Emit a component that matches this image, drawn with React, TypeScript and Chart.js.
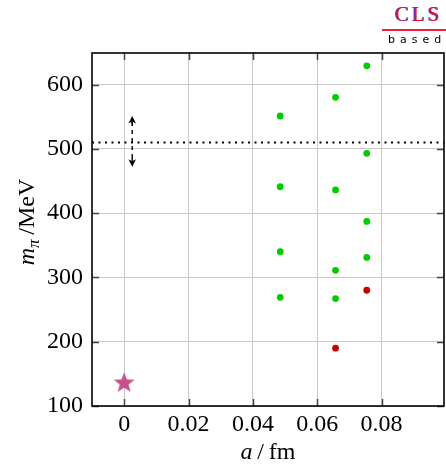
import React, { useEffect, useRef } from "react";
import { Chart, registerables } from "chart.js";

Chart.register(...registerables);

// ---- data ----
const xTicks = [0, 0.02, 0.04, 0.06, 0.08];
const yTicks = [100, 200, 300, 400, 500, 600];
const xRange = [-0.01, 0.0994];
const yRange = [100, 649];

const greenPoints: [number, number][] = [
  [0.0485, 551], [0.0485, 441], [0.0485, 340], [0.0485, 269],
  [0.0657, 580], [0.0657, 436], [0.0657, 311], [0.0657, 267],
  [0.0754, 629], [0.0754, 493], [0.0754, 387], [0.0754, 331],
];
const redPoints: [number, number][] = [
  [0.0657, 190], [0.0754, 280],
];
const physicalPoint: [number, number][] = [[0, 137]];
const refLineY = 510;
const arrowX = 0.0025;
const arrowYRange = [472, 551];

const SERIF = '"Liberation Serif", "DejaVu Serif", serif';
const FONT_SIZE = 24;

function makeStar(size: number, color: string) {
  const c = document.createElement("canvas");
  c.width = size;
  c.height = size;
  const ctx = c.getContext("2d")!;
  const cx = size / 2, cy = size / 2 + size * 0.04;
  const R = size / 2, r = R * 0.42;
  ctx.beginPath();
  for (let i = 0; i < 10; i++) {
    const rad = i % 2 === 0 ? R : r;
    const a = -Math.PI / 2 + (i * Math.PI) / 5;
    const px = cx + rad * Math.cos(a);
    const py = cy + rad * Math.sin(a);
    if (i === 0) ctx.moveTo(px, py);
    else ctx.lineTo(px, py);
  }
  ctx.closePath();
  ctx.fillStyle = color;
  ctx.fill();
  return c;
}

const decorPlugin = {
  id: "decor",
  afterDraw(chart: any) {
    const { ctx, chartArea: a, scales } = chart;
    const xs = scales.x, ys = scales.y;
    ctx.save();
    // inward tick marks
    ctx.strokeStyle = "#444";
    ctx.lineWidth = 1.5;
    const tl = 7;
    ctx.beginPath();
    xTicks.forEach((v) => {
      const px = Math.round(xs.getPixelForValue(v)) + 0.5;
      ctx.moveTo(px, a.bottom); ctx.lineTo(px, a.bottom - tl);
      ctx.moveTo(px, a.top); ctx.lineTo(px, a.top + tl);
    });
    yTicks.forEach((v) => {
      const py = Math.round(ys.getPixelForValue(v)) + 0.5;
      ctx.moveTo(a.left, py); ctx.lineTo(a.left + tl, py);
      ctx.moveTo(a.right, py); ctx.lineTo(a.right - tl, py);
    });
    ctx.stroke();
    // frame
    ctx.strokeStyle = "#000";
    ctx.lineWidth = 1.6;
    ctx.strokeRect(a.left, a.top, a.right - a.left, a.bottom - a.top);

    // double-headed dashed arrow
    const ax = xs.getPixelForValue(arrowX);
    const y1 = ys.getPixelForValue(arrowYRange[0]);
    const y2 = ys.getPixelForValue(arrowYRange[1]);
    ctx.strokeStyle = "#000";
    ctx.lineWidth = 1.4;
    ctx.setLineDash([4, 4]);
    ctx.beginPath();
    ctx.moveTo(ax, y2 + 6);
    ctx.lineTo(ax, y1 - 6);
    ctx.stroke();
    ctx.setLineDash([]);
    const head = (tipY: number, dir: number) => {
      ctx.beginPath();
      ctx.moveTo(ax, tipY);
      ctx.lineTo(ax - 3.8, tipY + dir * 7.5);
      ctx.lineTo(ax, tipY + dir * 5.5);
      ctx.lineTo(ax + 3.8, tipY + dir * 7.5);
      ctx.closePath();
      ctx.fillStyle = "#000";
      ctx.fill();
      ctx.beginPath();
      ctx.moveTo(ax, tipY + dir * 4);
      ctx.lineTo(ax, tipY + dir * 9);
      ctx.stroke();
    };
    head(y2, 1);
    head(y1, -1);

    // axis titles
    ctx.fillStyle = "#000";
    ctx.textBaseline = "alphabetic";
    const italic = `italic ${FONT_SIZE}px ${SERIF}`;
    const normal = `${FONT_SIZE}px ${SERIF}`;
    const sub = `italic ${Math.round(FONT_SIZE * 0.7)}px ${SERIF}`;
    // x title: "a / fm"
    {
      const parts: [string, string, number][] = [
        ["a", italic, 0],
        ["\u2009/\u2009fm", normal, 0],
      ];
      let w = 0;
      parts.forEach(([t, f]) => { ctx.font = f; w += ctx.measureText(t).width; });
      let x = (a.left + a.right) / 2 - w / 2;
      const y = 459;
      parts.forEach(([t, f]) => {
        ctx.font = f;
        ctx.fillText(t, x, y);
        x += ctx.measureText(t).width;
      });
    }
    // y title: "m_π / MeV" rotated
    {
      const parts: [string, string, number][] = [
        ["m", italic, 0],
        ["π", sub, 5],
        ["\u2009/MeV", normal, 0],
      ];
      let w = 0;
      parts.forEach(([t, f]) => { ctx.font = f; w += ctx.measureText(t).width; });
      ctx.translate(34, 222);
      ctx.rotate(-Math.PI / 2);
      let x = -w / 2;
      parts.forEach(([t, f, dy]) => {
        ctx.font = f;
        ctx.fillText(t, x, dy);
        x += ctx.measureText(t).width;
      });
    }
    ctx.restore();
  },
};

export default function App() {
  const ref = useRef<HTMLCanvasElement>(null);
  useEffect(() => {
    const star = makeStar(22, "#c94f8b");
    const toXY = (p: [number, number][]) => p.map(([x, y]) => ({ x, y }));
    const chart = new Chart(ref.current!, {
      type: "scatter",
      data: {
        datasets: [
          {
            type: "line",
            data: [
              { x: xRange[0], y: refLineY },
              { x: xRange[1], y: refLineY },
            ],
            borderColor: "#000",
            borderWidth: 2,
            borderDash: [2, 4.5],
            pointRadius: 0,
            fill: false,
          } as any,
          {
            data: toXY(greenPoints),
            backgroundColor: "#00cc00",
            borderWidth: 0,
            pointRadius: 3.4,
          },
          {
            data: toXY(redPoints),
            backgroundColor: "#cc0000",
            borderWidth: 0,
            pointRadius: 3.4,
          },
          {
            data: toXY(physicalPoint),
            pointStyle: star as any,
            pointRadius: 11,
          },
        ],
      },
      options: {
        animation: false,
        responsive: false,
        layout: { autoPadding: false, padding: { top: 53, right: 2, left: 0, bottom: 0 } },
        plugins: {
          legend: { display: false },
          tooltip: { enabled: false },
        },
        scales: {
          x: {
            type: "linear",
            min: xRange[0],
            max: xRange[1],
            afterBuildTicks: (s: any) => {
              s.ticks = xTicks.map((v) => ({ value: v }));
            },
            afterFit: (s: any) => {
              s.height = 59;
              s.paddingLeft = 0;
              s.paddingRight = 0;
            },
            ticks: {
              padding: 4,
              color: "#000",
              font: { family: SERIF, size: FONT_SIZE },
              callback: (v: any) => (v === 0 ? "0" : Number(v).toFixed(2)),
            },
            grid: { color: "#c8c8c8", lineWidth: 1, drawTicks: false },
            border: { display: false },
          },
          y: {
            type: "linear",
            min: yRange[0],
            max: yRange[1],
            afterBuildTicks: (s: any) => {
              s.ticks = yTicks.map((v) => ({ value: v }));
            },
            afterFit: (s: any) => {
              s.width = 92;
              s.paddingTop = 0;
              s.paddingBottom = 0;
            },
            ticks: {
              padding: 9,
              color: "#000",
              font: { family: SERIF, size: FONT_SIZE },
              callback: (v: any) => String(v),
            },
            grid: { color: "#c8c8c8", lineWidth: 1, drawTicks: false },
            border: { display: false },
          },
        },
      },
      plugins: [decorPlugin],
    });
    return () => chart.destroy();
  }, []);

  return (
    <div style={{ position: "fixed", left: 0, top: 0, width: 446, height: 465, background: "#fff" }}>
      <canvas ref={ref} width={446} height={465} style={{ display: "block" }} />
      <div style={{ position: "absolute", left: 382, top: 3, width: 64, textAlign: "center" }}>
        <div
          style={{
            fontFamily: SERIF,
            fontSize: 21,
            color: "#e8102a",
            letterSpacing: 3,
            lineHeight: "22px",
            textShadow: "-1px 0 0 #2244ee",
            paddingLeft: 10,
          }}
        >
          CLS
        </div>
        <div style={{ height: 2, background: "#f0203a", marginTop: 4 }} />
        <div
          style={{
            fontFamily: '"DejaVu Sans", sans-serif',
            fontSize: 11,
            letterSpacing: 5,
            lineHeight: "12px",
            marginTop: 3,
            paddingLeft: 6,
            color: "#000",
            whiteSpace: "nowrap",
          }}
        >
          based
        </div>
      </div>
    </div>
  );
}
